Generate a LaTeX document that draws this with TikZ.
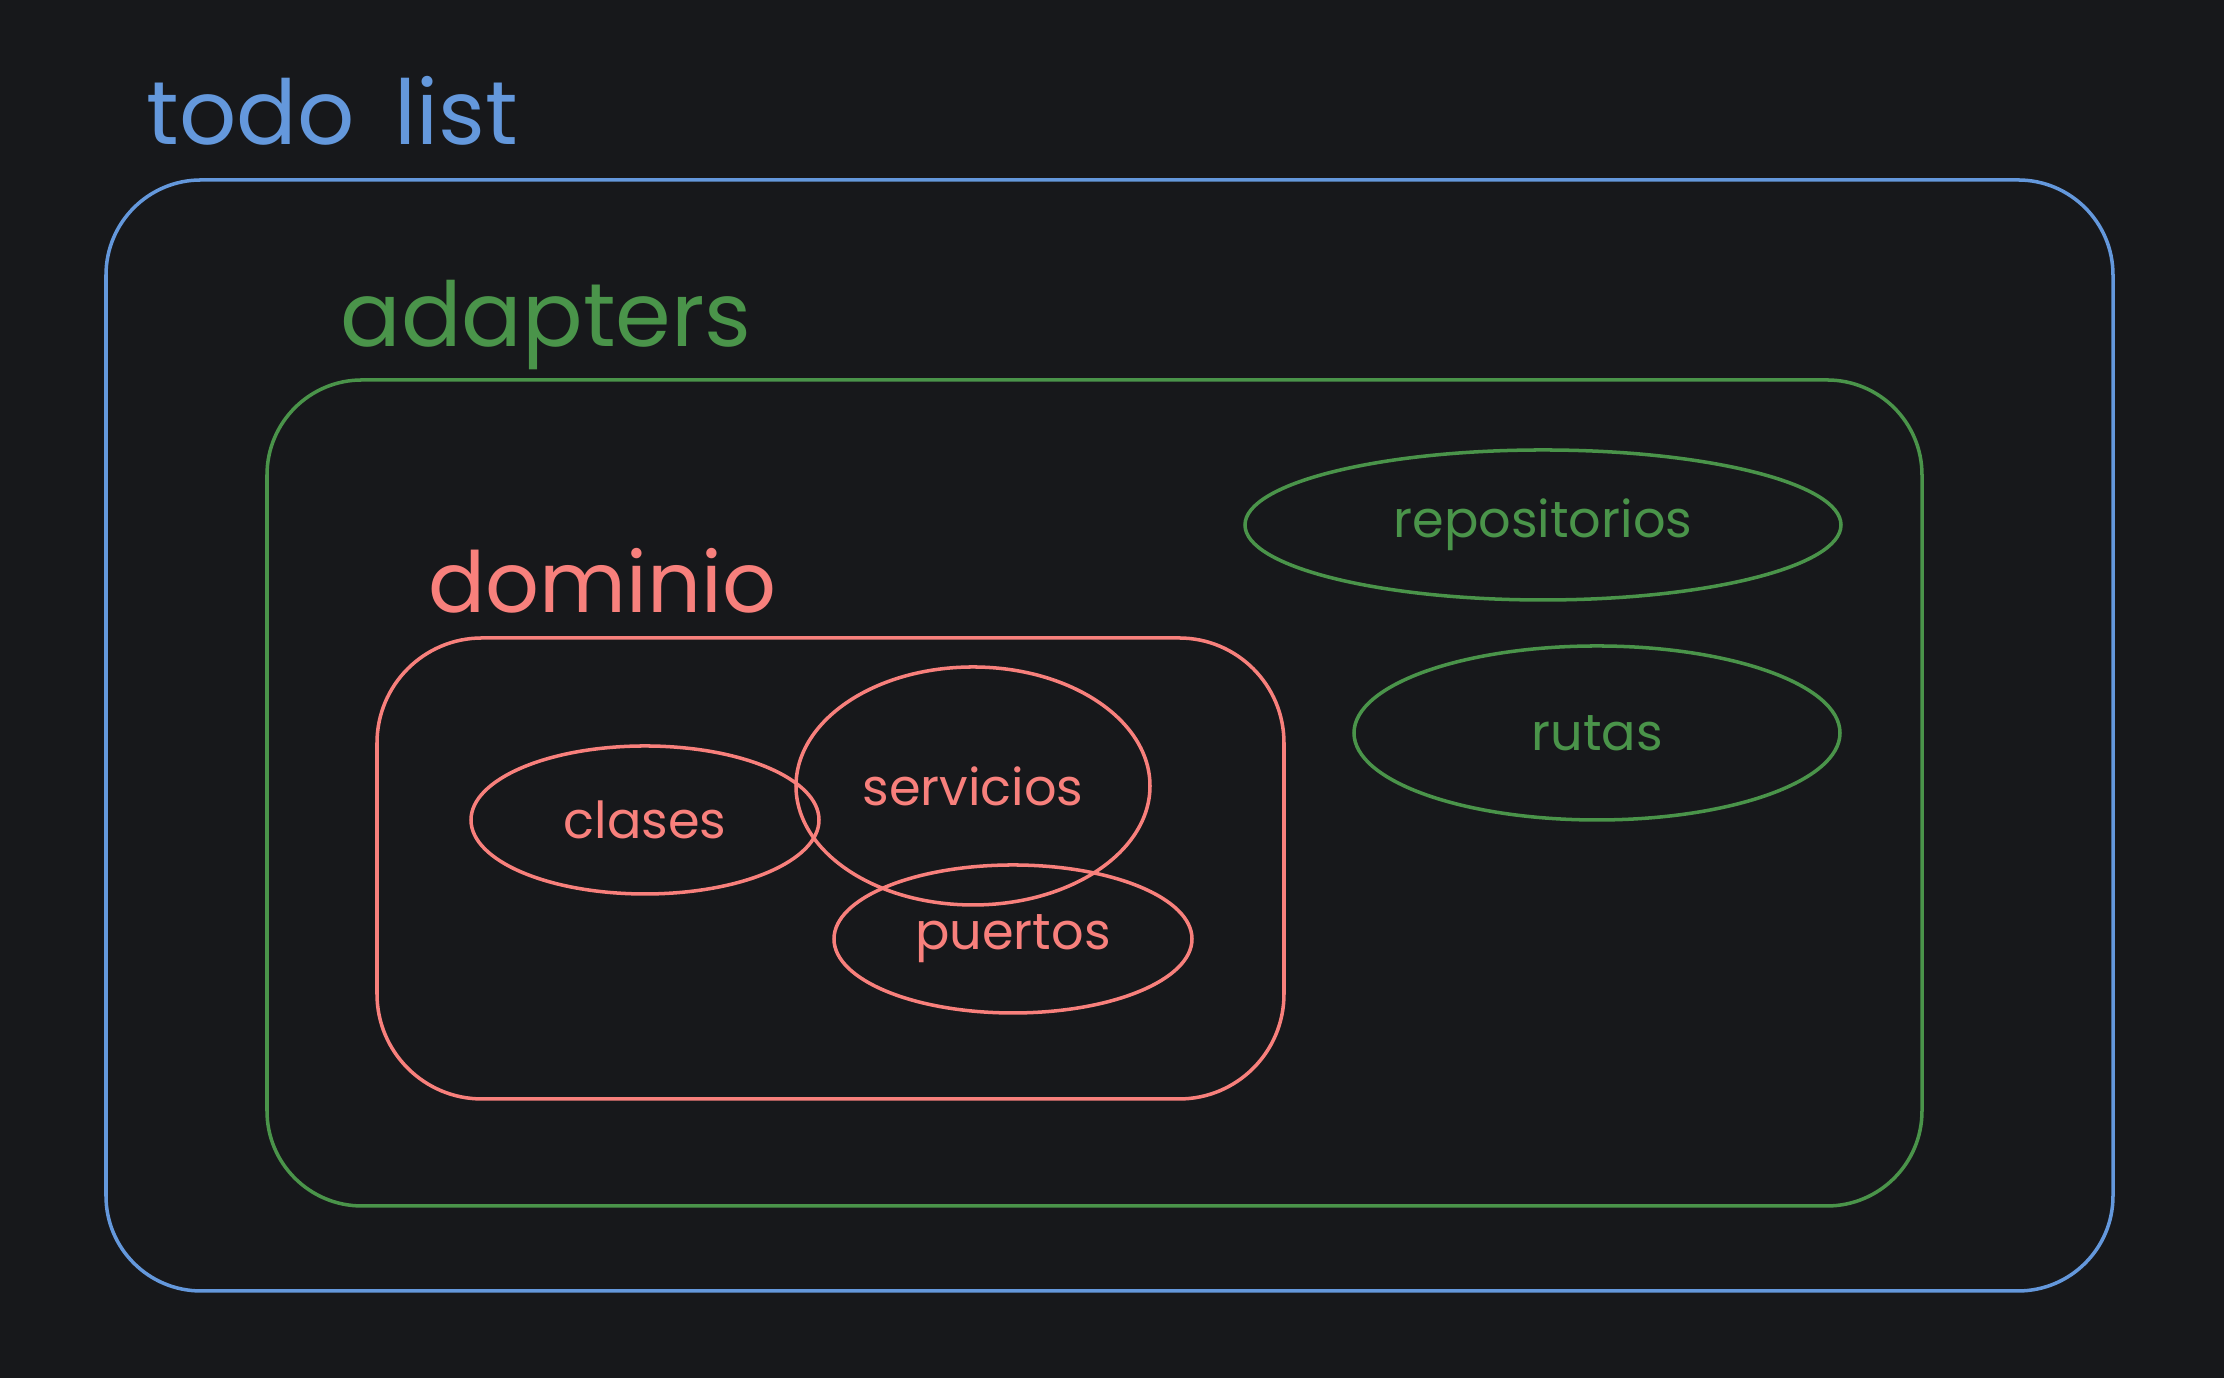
\documentclass[tikz,border=0pt]{standalone}
\usepackage{fontspec}
\setmainfont{Poppins}
\usetikzlibrary{shapes.geometric}

\definecolor{bgdark}{HTML}{17181B}
\definecolor{skyblue}{HTML}{6498DC}
\definecolor{leafgreen}{HTML}{4A944A}
\definecolor{salmon}{HTML}{F8807C}

\begin{document}
\begin{tikzpicture}[
    layer/.style={draw, rounded corners=0.95cm, line width=1pt, inner sep=0pt},
    heading/.style={anchor=base west, inner sep=0pt, font=\fontsize{25.5}{28}\selectfont},
    part/.style={ellipse, draw, line width=1pt, inner sep=0pt, font=\fontsize{14.5}{16}\selectfont}
]
\fill[bgdark] (0,0) rectangle (22.24,13.78);
\useasboundingbox (0,0) rectangle (22.24,13.78);

% outer box
\node[layer, skyblue, minimum width=20.07cm, minimum height=11.11cm] (todo) at (11.095,6.425) {};
\node[heading, text=skyblue] (todolbl) at (1.46,12.33) {todo\hspace{0.45em}list};

% adapters
\node[layer, leafgreen, minimum width=16.55cm, minimum height=8.26cm] (adapters) at (10.945,5.85) {};
\node[heading, text=leafgreen] (adapterslbl) at (3.40,10.31) {adapters};

% dominio
\node[layer, salmon, rounded corners=1.05cm, minimum width=9.07cm, minimum height=4.61cm] (dominio) at (8.305,5.095) {};
\node[heading, text=salmon, font=\fontsize{24}{28}\selectfont] (dominiolbl) at (4.28,7.65) {dominio};

\node[part, salmon, minimum width=3.48cm, minimum height=1.48cm] (clases) at (6.45,5.58) {clases};
\node[part, salmon, minimum width=3.54cm, minimum height=2.38cm] (servicios) at (9.73,5.92) {servicios};
\node[part, salmon, minimum width=3.58cm, minimum height=1.48cm] (puertos) at (10.13,4.39) {puertos};

\node[part, leafgreen, minimum width=5.96cm, minimum height=1.50cm] (repos) at (15.43,8.53) {repositorios};
\node[part, leafgreen, minimum width=4.86cm, minimum height=1.74cm] (rutas) at (15.97,6.45) {rutas};

\end{tikzpicture}
\end{document}
